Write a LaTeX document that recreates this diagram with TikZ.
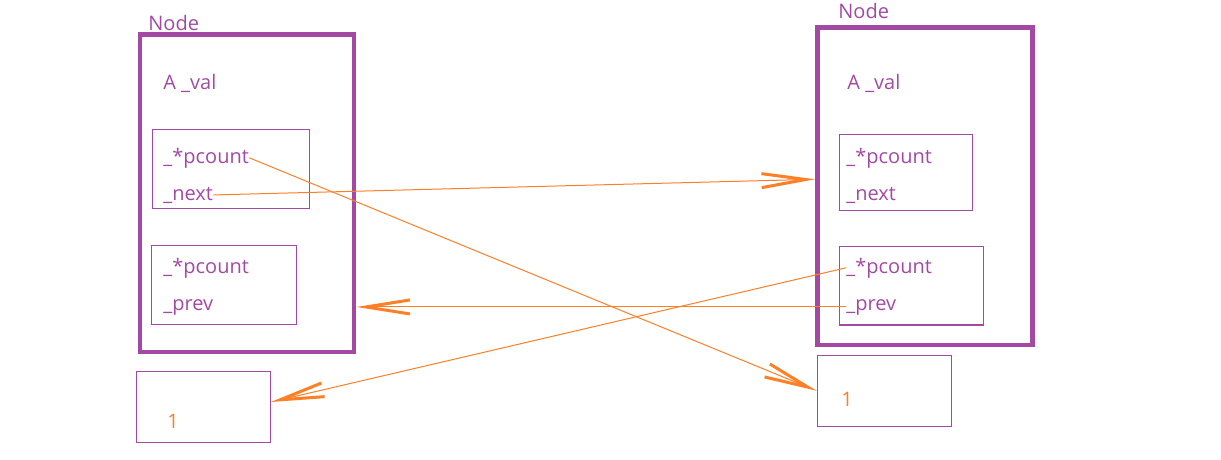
\documentclass[tikz,border=0pt]{standalone}
\usepackage{fontspec}
\setmainfont{Open Sans}
\usetikzlibrary{arrows.meta, positioning}
\definecolor{plum}{HTML}{A349A4}
\definecolor{ptrorange}{HTML}{FF7F27}

\begin{document}
\begin{tikzpicture}[x=0.5pt, y=-0.5pt,
  outerbox/.style={draw=plum, line width=2.4pt, inner sep=0pt,
                   minimum width=107pt, minimum height=158.75pt},
  fieldbox/.style={draw=plum, line width=0.55pt, inner sep=0pt},
  field/.style={text=plum, font=\fontsize{10}{12}\selectfont,
                inner sep=0pt, anchor=base west},
  count/.style={text=ptrorange, font=\fontsize{10}{12}\selectfont,
                inner sep=0pt, anchor=base},
  ptr/.style={ptrorange, line width=0.5pt,
              -{Straight Barb[length=22pt, width=7pt, line width=1.5pt]}}
]
\useasboundingbox (0,0) rectangle (1221,460);

% left list node
\node[outerbox] (lnode) at (247,193.25) {};
\node[field] (ltitle) at (148,31) {Node};
\node[field] (lval) at (163,90) {A \_val};
\node[fieldbox, minimum width=78.7pt, minimum height=39.5pt] (lnextbox) at (231,168.8) {};
\node[field] (lpc) at (163,163) {\_*pcount};
\node[field] (lnext) at (163,200) {\_next};
\node[fieldbox, minimum width=72.7pt, minimum height=39.3pt] (lprevbox) at (224,285) {};
\node[field] (lpc2) at (163,273) {\_*pcount};
\node[field] (lprev) at (163,310) {\_prev};

% right list node
\node[outerbox, minimum width=107.5pt] (rnode) at (925,186.25) {};
\node[field] (rtitle) at (838,19) {Node};
\node[field] (rval) at (847,90) {A \_val};
\node[fieldbox, minimum width=66.7pt, minimum height=38pt] (rnextbox) at (906,172.3) {};
\node[field] (rpc2) at (846,163) {\_*pcount};
\node[field] (rnext) at (846,200) {\_next};
\node[fieldbox, minimum width=72.2pt, minimum height=39.2pt] (rprevbox) at (911.5,285.8) {};
\node[field] (rpc) at (846,273) {\_*pcount};
\node[field] (rprev) at (846,310) {\_prev};

% reference counts
\node[fieldbox, minimum width=67pt, minimum height=35.3pt] (lone) at (203.3,407) {};
\node[count] (lonetext) at (173,428) {1};
\node[fieldbox, minimum width=67pt, minimum height=35.5pt] (rone) at (884.3,390.8) {};
\node[count] (ronetext) at (847,406) {1};

% pointers
\draw[ptr] (lpc.east) -- (rone.west);
\draw[ptr] (lnext.east) -- ([yshift=3.5pt]rnode.west);
\draw[ptr] (rprev.west) -- (lnode.east |- rprev.west);
\draw[ptr] (rpc.west) -- ([yshift=2.5pt]lone.east);
\end{tikzpicture}
\end{document}
